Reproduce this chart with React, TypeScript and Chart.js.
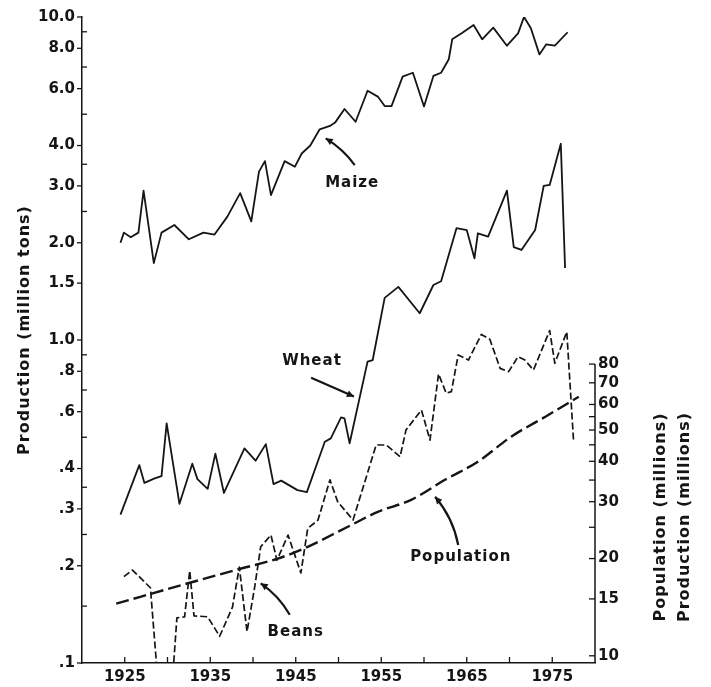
import React, { useEffect, useRef } from "react";
import { Chart, registerables } from "chart.js";

Chart.register(...registerables);

// ---------- data ----------
const maizeYears = [
  1924.5, 1924.9, 1925.7, 1926.6, 1927.2, 1928.4, 1929.3, 1930.8, 1932.5, 1934.2,
  1935.5, 1937.0, 1938.5, 1939.8, 1940.7, 1941.4, 1942.1, 1943.7, 1944.9, 1945.7,
  1946.7, 1947.8, 1949.0, 1949.6, 1950.7, 1952.0, 1953.4, 1954.6, 1955.4, 1956.2,
  1957.5, 1958.7, 1960.0, 1961.1, 1962.0, 1962.9, 1963.3, 1964.4, 1965.8, 1966.8,
  1968.1, 1969.7, 1971.0, 1971.7, 1972.5, 1973.5, 1974.3, 1975.3, 1976.8,
];
const maizeValues = [
  2.0, 2.15, 2.08, 2.15, 2.9, 1.73, 2.15, 2.27, 2.05, 2.15,
  2.12, 2.41, 2.85, 2.33, 3.32, 3.58, 2.81, 3.58, 3.44, 3.78,
  4.0, 4.49, 4.6, 4.71, 5.19, 4.74, 5.91, 5.67, 5.3, 5.3,
  6.54, 6.72, 5.28, 6.57, 6.72, 7.4, 8.53, 8.9, 9.45, 8.53,
  9.27, 8.15, 8.9, 10.0, 9.23, 7.66, 8.23, 8.15, 8.97,
];

const wheatYears = [
  1924.5, 1926.7, 1927.3, 1928.5, 1929.3, 1929.9, 1931.4, 1932.9, 1933.5, 1934.7,
  1935.6, 1936.6, 1939.0, 1940.3, 1941.5, 1942.4, 1943.3, 1945.2, 1946.3, 1948.4,
  1949.1, 1950.3, 1950.7, 1951.3, 1953.4, 1954.0, 1955.4, 1957.0, 1959.5, 1961.1,
  1962.0, 1963.8, 1965.0, 1965.9, 1966.3, 1967.5, 1969.7, 1970.5, 1971.4, 1973.0,
  1974.0, 1974.7, 1976.0, 1976.5,
];
const wheatValues = [
  0.288, 0.41, 0.361, 0.373, 0.379, 0.552, 0.311, 0.414, 0.371, 0.346,
  0.445, 0.336, 0.462, 0.423, 0.476, 0.358, 0.367, 0.343, 0.338, 0.484,
  0.496, 0.576, 0.572, 0.479, 0.857, 0.867, 1.35, 1.46, 1.21, 1.48,
  1.52, 2.22, 2.19, 1.79, 2.14, 2.09, 2.9, 1.94, 1.9, 2.19,
  3.0, 3.02, 4.05, 1.67,
];

const beansYears = [
  1924.9, 1925.9, 1928.0, 1929.0, 1930.6, 1931.1, 1932.0, 1932.6, 1933.1, 1934.7,
  1936.1, 1937.6, 1938.4, 1939.3, 1940.2, 1940.9, 1942.1, 1942.8, 1944.1, 1945.6,
  1946.4, 1947.6, 1949.0, 1949.9, 1951.7, 1954.4, 1955.6, 1957.2, 1957.9, 1959.7,
  1960.7, 1961.7, 1962.6, 1963.2, 1964.0, 1965.2, 1966.7, 1967.7, 1968.9, 1969.9,
  1971.0, 1971.8, 1972.8, 1974.7, 1975.3, 1976.7, 1977.5,
];
const beansValues = [
  0.185, 0.194, 0.171, 0.08, 0.09, 0.138, 0.139, 0.193, 0.14, 0.139,
  0.121, 0.149, 0.198, 0.125, 0.172, 0.229, 0.249, 0.208, 0.249, 0.19,
  0.261, 0.277, 0.369, 0.316, 0.277, 0.473, 0.473, 0.435, 0.527, 0.607,
  0.49, 0.785, 0.684, 0.692, 0.899, 0.867, 1.04, 1.005, 0.817, 0.798,
  0.888, 0.867, 0.807, 1.07, 0.847, 1.06, 0.484,
];

const populationYears = [
  1924.0, 1932.5, 1938.2, 1942.9, 1946.0, 1951.1, 1954.6, 1958.5, 1962.4, 1966.3,
  1970.2, 1974.2, 1978.1,
];
const populationValues = [
  14.5, 16.8, 18.5, 20.0, 21.5, 25.1, 27.9, 30.4, 35.0, 39.9,
  47.7, 55.0, 63.4,
];

// ---------- axes ----------
const xLabelYears = [1925, 1935, 1945, 1955, 1965, 1975];
const xTickYears = [1925, 1930, 1935, 1940, 1945, 1950, 1955, 1960, 1965, 1970, 1975];
const leftTickValues = [0.1, 0.2, 0.3, 0.4, 0.6, 0.8, 1, 1.5, 2, 3, 4, 6, 8, 10];
const leftTickLabels = [".1", ".2", ".3", ".4", ".6", ".8", "1.0", "1.5", "2.0", "3.0", "4.0", "6.0", "8.0", "10.0"];
const leftMinorTicks = [0.15, 0.25, 0.35, 0.5, 0.7, 0.9, 2.5, 3.5, 5, 7, 9];
const rightTickValues = [10, 15, 20, 30, 40, 50, 60, 70, 80];
const rightMinorTicks = [25, 35, 45, 55];

const leftTitle = "Production (million tons)";
const rightTitles = ["Population (millions)", "Production (millions)"];

// annotations (in data space: year, left-axis value)
const noteLabels = ["Maize", "Wheat", "Population", "Beans"];
const noteTextAt = [[1951.6, 3.06], [1946.9, 0.861], [1964.3, 0.212], [1945.0, 0.1247]];
const noteArrowFrom = [[1951.9, 3.48], [1946.8, 0.764], [1964.0, 0.232], [1944.3, 0.141]];
const noteArrowTo = [[1948.5, 4.21], [1951.8, 0.668], [1961.3, 0.327], [1940.9, 0.1765]];
const noteBend = [4, 0, 7, 5];

const FONT = '"DejaVu Sans", sans-serif';
const INK = "#151515";

const decorPlugin = {
  id: "decor",
  afterDraw(chart: any) {
    const { ctx, chartArea: a, scales } = chart;
    const sx = scales.x, sy = scales.y, sy2 = scales.y2;
    const seg = (x1: number, y1: number, x2: number, y2: number) => {
      ctx.beginPath(); ctx.moveTo(x1, y1); ctx.lineTo(x2, y2); ctx.stroke();
    };
    ctx.save();
    ctx.strokeStyle = INK;
    ctx.fillStyle = INK;
    ctx.lineWidth = 1.3;

    xTickYears.forEach((yr) => {
      const px = sx.getPixelForValue(yr);
      seg(px, a.bottom, px, a.bottom - 6);
    });
    leftTickValues.forEach((v) => {
      const py = sy.getPixelForValue(v);
      seg(a.left - 5, py, a.left, py);
    });
    leftMinorTicks.forEach((v) => {
      const py = sy.getPixelForValue(v);
      seg(a.left, py, a.left + 5, py);
    });
    const topRight = sy2.getPixelForValue(Math.max(...rightTickValues));
    ctx.lineWidth = 1.5;
    seg(a.right, a.bottom, a.right, topRight);
    ctx.lineWidth = 1.3;
    [...rightTickValues, ...rightMinorTicks].forEach((v) => {
      const py = sy2.getPixelForValue(v);
      seg(a.right - 6, py, a.right, py);
    });

    // titles
    const vertical = (text: string, cx: number, cy: number, size: number) => {
      ctx.save();
      ctx.translate(cx, cy);
      ctx.rotate(-Math.PI / 2);
      ctx.font = `bold ${size}px ${FONT}`;
      (ctx as any).letterSpacing = "1px";
      ctx.textAlign = "center";
      ctx.textBaseline = "middle";
      ctx.fillText(text, 0, 0);
      ctx.restore();
    };
    vertical(leftTitle, 25, (a.top + a.bottom) / 2 - 10, 16);
    vertical(rightTitles[0], a.right + 66, a.bottom - 146, 16);
    vertical(rightTitles[1], a.right + 90, a.bottom - 146, 16);

    // annotations
    noteLabels.forEach((label, i) => {
      const tx = sx.getPixelForValue(noteTextAt[i][0]);
      const ty = sy.getPixelForValue(noteTextAt[i][1]);
      ctx.save();
      ctx.font = `bold 15px ${FONT}`;
      (ctx as any).letterSpacing = "1px";
      ctx.textAlign = "center";
      ctx.textBaseline = "middle";
      ctx.fillText(label, tx, ty);
      ctx.restore();

      const x0 = sx.getPixelForValue(noteArrowFrom[i][0]);
      const y0 = sy.getPixelForValue(noteArrowFrom[i][1]);
      const x1 = sx.getPixelForValue(noteArrowTo[i][0]);
      const y1 = sy.getPixelForValue(noteArrowTo[i][1]);
      const dx = x1 - x0, dy = y1 - y0;
      const len = Math.hypot(dx, dy) || 1;
      const nx = -dy / len, ny = dx / len;
      const cx = (x0 + x1) / 2 + nx * noteBend[i];
      const cy = (y0 + y1) / 2 + ny * noteBend[i];
      ctx.lineWidth = 2.2;
      ctx.beginPath();
      ctx.moveTo(x0, y0);
      ctx.quadraticCurveTo(cx, cy, x1, y1);
      ctx.stroke();
      const ang = Math.atan2(y1 - cy, x1 - cx);
      const hl = 7, hw = 3.5;
      ctx.beginPath();
      ctx.moveTo(x1, y1);
      ctx.lineTo(x1 - hl * Math.cos(ang) + hw * Math.sin(ang), y1 - hl * Math.sin(ang) - hw * Math.cos(ang));
      ctx.lineTo(x1 - hl * Math.cos(ang) - hw * Math.sin(ang), y1 - hl * Math.sin(ang) + hw * Math.cos(ang));
      ctx.closePath();
      ctx.fill();
    });
    ctx.restore();
  },
};

const toPoints = (xs: number[], ys: number[]) => xs.map((x, i) => ({ x, y: ys[i] }));

export default function App() {
  const ref = useRef<HTMLCanvasElement | null>(null);

  useEffect(() => {
    document.body.style.margin = "0";
    const canvas = ref.current;
    if (!canvas) return;
    const tickFont = { family: FONT, size: 15, weight: "bold" as const };
    const chart = new Chart(canvas, {
      type: "line",
      data: {
        datasets: [
          { label: "Maize", data: toPoints(maizeYears, maizeValues), borderColor: INK, borderWidth: 1.8, yAxisID: "y", tension: 0 },
          { label: "Wheat", data: toPoints(wheatYears, wheatValues), borderColor: INK, borderWidth: 1.8, yAxisID: "y", tension: 0 },
          { label: "Beans", data: toPoints(beansYears, beansValues), borderColor: INK, borderWidth: 1.7, borderDash: [7, 3], yAxisID: "y", tension: 0 },
          { label: "Population", data: toPoints(populationYears, populationValues), borderColor: INK, borderWidth: 2.4, borderDash: [13, 5], yAxisID: "y2", cubicInterpolationMode: "monotone" },
        ],
      },
      options: {
        responsive: false,
        animation: false,
        devicePixelRatio: 1,
        layout: { padding: { top: 17, left: 0, right: 0, bottom: 0 } },
        plugins: { legend: { display: false }, tooltip: { enabled: false } },
        elements: { point: { radius: 0 }, line: { borderJoinStyle: "round", fill: false } },
        scales: {
          x: {
            type: "linear",
            position: "bottom",
            min: 1920,
            max: 1980,
            grid: { display: false, drawTicks: false },
            border: { display: true, color: INK, width: 1.5 },
            ticks: { autoSkip: false, maxRotation: 0, padding: 5, color: INK, font: tickFont, callback: (v: any) => String(v) },
            afterBuildTicks: (s: any) => { s.ticks = xLabelYears.map((v) => ({ value: v })); },
            afterFit: (s: any) => { s.height = 24; },
          },
          y: {
            type: "logarithmic",
            position: "left",
            min: 0.1,
            max: 10,
            grid: { display: false, drawTicks: false },
            border: { display: true, color: INK, width: 1.5 },
            ticks: {
              autoSkip: false, padding: 7, color: INK, font: tickFont,
              callback: (v: any) => { const i = leftTickValues.indexOf(Number(v)); return i >= 0 ? leftTickLabels[i] : ""; },
            },
            afterBuildTicks: (s: any) => { s.ticks = leftTickValues.map((v) => ({ value: v })); },
            afterFit: (s: any) => { s.width = 82; },
          },
          y2: {
            type: "logarithmic",
            position: "right",
            min: 9.5,
            max: 950,
            grid: { display: false, drawTicks: false },
            border: { display: false },
            ticks: { autoSkip: false, padding: 3, color: INK, font: tickFont, callback: (v: any) => String(v) },
            afterBuildTicks: (s: any) => { s.ticks = rightTickValues.map((v) => ({ value: v })); },
            afterFit: (s: any) => { s.width = 116; },
          },
        },
      },
      plugins: [decorPlugin],
    } as any);
    return () => chart.destroy();
  }, []);

  return (
    <div style={{ width: 711, height: 687, background: "#fff" }}>
      <canvas ref={ref} width={711} height={687} style={{ display: "block" }} />
    </div>
  );
}
